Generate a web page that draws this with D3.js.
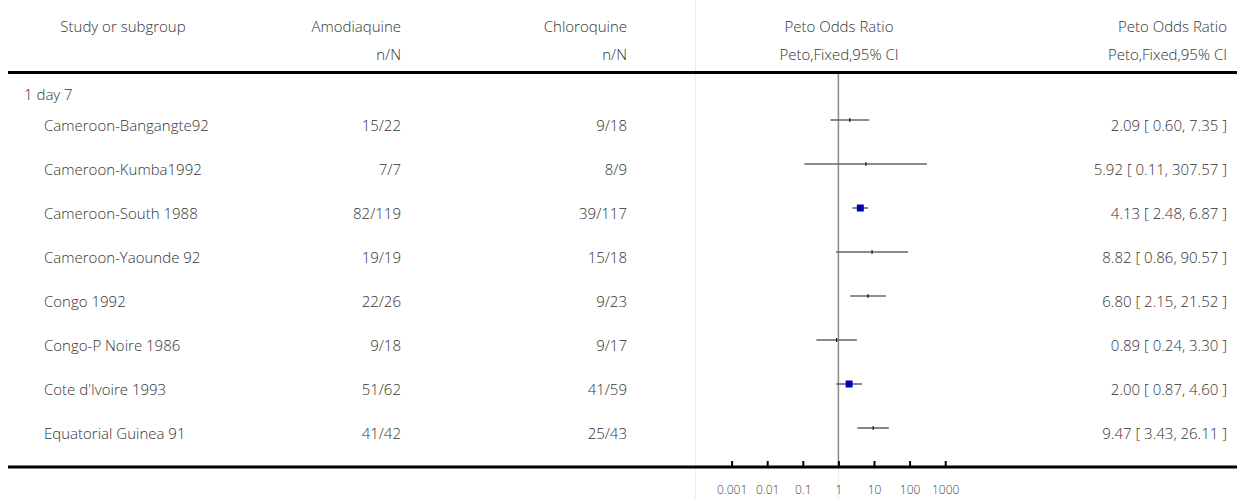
<!DOCTYPE html>
<html>
<head>
<meta charset="utf-8">
<script src="https://cdn.jsdelivr.net/npm/d3@7"></script>
<style>
  body { margin: 0; background: #fff; }
  svg text { font-family: "Open Sans", Lato, sans-serif; font-weight: 300; fill: #333; }
</style>
</head>
<body>
<svg id="chart"></svg>
<script>
// data
const groupTitle = '1 day 7'
const studies = ['Cameroon-Bangangte92', 'Cameroon-Kumba1992', 'Cameroon-South 1988', 'Cameroon-Yaounde 92',
                 'Congo 1992', 'Congo-P Noire 1986', "Cote d'Ivoire 1993", 'Equatorial Guinea 91']
const amodiaquine = ['15/22', '7/7', '82/119', '19/19', '22/26', '9/18', '51/62', '41/42']
const chloroquine = ['9/18', '8/9', '39/117', '15/18', '9/23', '9/17', '41/59', '25/43']
const oddsRatio = [2.09, 5.92, 4.13, 8.82, 6.80, 0.89, 2.00, 9.47]
const ciLow = [0.60, 0.11, 2.48, 0.86, 2.15, 0.24, 0.87, 3.43]
const ciHigh = [7.35, 307.57, 6.87, 90.57, 21.52, 3.30, 4.60, 26.11]
// estimated Peto weights (%)
const weights = [7.5, 0.8, 45.4, 2.2, 8.9, 6.9, 17.0, 11.4]
const tickValues = [0.001, 0.01, 0.1, 1, 10, 100, 1000]
const tickLabels = ['0.001', '0.01', '0.1', '1', '10', '100', '1000']

const width = 1237
const height = 499
const fontSize = 15
const svg = d3.select('#chart').attr('width', width).attr('height', height)

const x = d3.scaleLog().domain([0.001, 1000]).range([731.6, 945.2])
const y = d3.scaleBand().domain(d3.range(studies.length)).range([98, 450])
const rowY = i => y(i) + y.bandwidth() / 2
const boxSize = d3.scaleThreshold().domain([15]).range([0, 7])

const fmt = d3.format('.2f')

// 浅色分隔线
svg.append('line')
    .attr('x1', 695.5).attr('x2', 695.5)
    .attr('y1', 0).attr('y2', height)
    .attr('stroke', '#ececec').attr('stroke-width', 1)

svg.append('line')
    .attr('x1', x(1)).attr('x2', x(1))
    .attr('y1', 467).attr('y2', height)
    .attr('stroke', '#ececec').attr('stroke-width', 1)

// 表头
const head = svg.append('g').attr('font-size', fontSize)
const headCols = [
    {t: ['Study or subgroup', ''], x: 123, anchor: 'middle'},
    {t: ['Amodiaquine', 'n/N'], x: 401, anchor: 'end'},
    {t: ['Chloroquine', 'n/N'], x: 627, anchor: 'end'},
    {t: ['Peto Odds Ratio', 'Peto,Fixed,95% CI'], x: 839, anchor: 'middle'},
    {t: ['Peto Odds Ratio', 'Peto,Fixed,95% CI'], x: 1227, anchor: 'end'},
]
headCols.forEach(c => {
    head.append('text').attr('x', c.x).attr('y', 32).attr('text-anchor', c.anchor).text(c.t[0])
    head.append('text').attr('x', c.x).attr('y', 60).attr('text-anchor', c.anchor).text(c.t[1])
})

svg.append('line')
    .attr('x1', 8).attr('x2', width)
    .attr('y1', 72.5).attr('y2', 72.5)
    .attr('stroke', '#000').attr('stroke-width', 3)

svg.append('text').attr('x', 24).attr('y', 100).attr('font-size', fontSize).text(groupTitle)

// 参考线 OR = 1
svg.append('line')
    .attr('x1', x(1)).attr('x2', x(1))
    .attr('y1', 74).attr('y2', 467)
    .attr('stroke', '#888').attr('stroke-width', 1.5)

// 各研究行
const rows = svg.append('g').selectAll('g').data(studies).enter()
    .append('g')

const textY = (d, i) => rowY(i) + 10.5

rows.append('text')
    .attr('x', 44).attr('y', textY)
    .attr('font-size', fontSize)
    .text(d => d)

rows.append('text')
    .attr('x', 401).attr('y', textY)
    .attr('font-size', fontSize).attr('text-anchor', 'end')
    .text((d, i) => amodiaquine[i])

rows.append('text')
    .attr('x', 627).attr('y', textY)
    .attr('font-size', fontSize).attr('text-anchor', 'end')
    .text((d, i) => chloroquine[i])

rows.append('text')
    .attr('x', 1227).attr('y', textY)
    .attr('font-size', fontSize).attr('text-anchor', 'end')
    .text((d, i) => `${fmt(oddsRatio[i])} [ ${fmt(ciLow[i])}, ${fmt(ciHigh[i])} ]`)

// 置信区间
rows.append('line')
    .attr('x1', (d, i) => x(ciLow[i])).attr('x2', (d, i) => x(ciHigh[i]))
    .attr('y1', (d, i) => rowY(i)).attr('y2', (d, i) => rowY(i))
    .attr('stroke', '#666').attr('stroke-width', 1.6)

rows.append('rect')
    .attr('x', (d, i) => x(oddsRatio[i]) - boxSize(weights[i]) / 2)
    .attr('y', (d, i) => rowY(i) - boxSize(weights[i]) / 2)
    .attr('width', (d, i) => boxSize(weights[i]))
    .attr('height', (d, i) => boxSize(weights[i]))
    .attr('fill', '#0000cc')

rows.append('line')
    .attr('x1', (d, i) => x(oddsRatio[i])).attr('x2', (d, i) => x(oddsRatio[i]))
    .attr('y1', (d, i) => rowY(i) - 2).attr('y2', (d, i) => rowY(i) + 2)
    .attr('stroke', '#000').attr('stroke-width', 1)

// 底部坐标轴
svg.append('line')
    .attr('x1', 8).attr('x2', width)
    .attr('y1', 467).attr('y2', 467)
    .attr('stroke', '#000').attr('stroke-width', 3)

const axis = svg.append('g')
    .attr('transform', 'translate(0, 467)')
    .call(d3.axisBottom(x)
        .tickValues(tickValues)
        .tickFormat((d, i) => tickLabels[i])
        .tickSizeInner(-6).tickSizeOuter(0).tickPadding(18))

axis.select('.domain').remove()
axis.selectAll('.tick line').attr('stroke', '#000').attr('stroke-width', 2)
axis.selectAll('.tick text').attr('font-size', 12)
    .attr('font-family', '"Open Sans", sans-serif').attr('font-weight', 300).style('fill', '#444')
</script>
</body>
</html>
